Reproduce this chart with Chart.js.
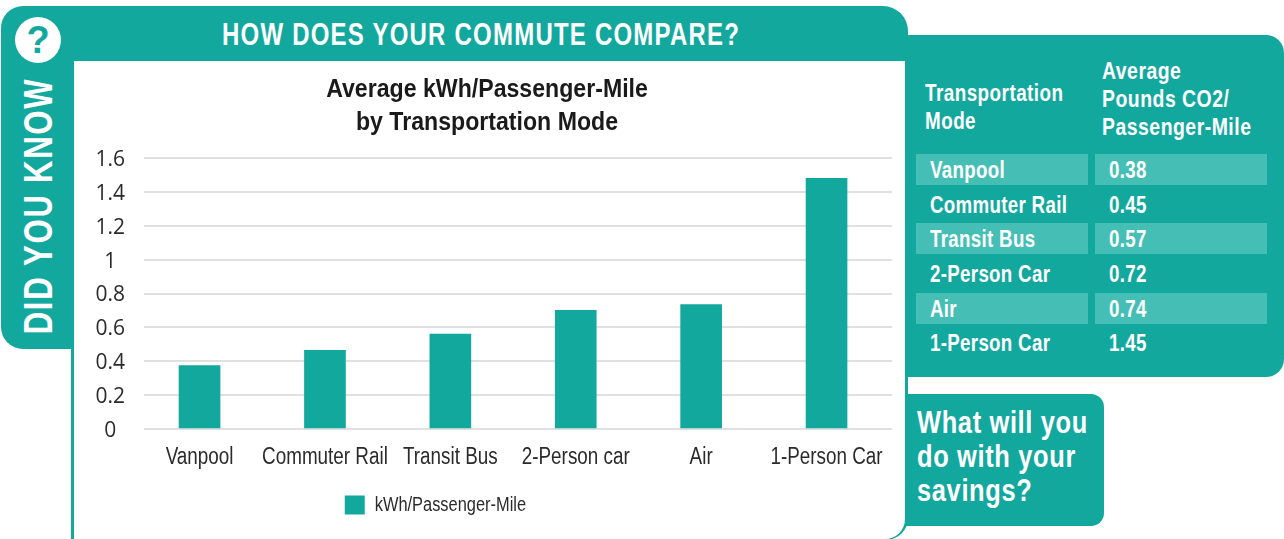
<!DOCTYPE html>
<html>
<head>
<meta charset="utf-8">
<title>How does your commute compare?</title>
<script src="https://cdn.jsdelivr.net/npm/chart.js@4"></script>
<style>
html, body { margin: 0; padding: 0; background: #fff; overflow: hidden; }
body { position: relative; width: 1284px; height: 539px; font-family: "Liberation Sans", sans-serif; font-weight: bold; color: #fff; }
div { position: absolute; white-space: nowrap; }
.teal { background: #13a89e; }
#frame { left: 71px; top: 6px; width: 837px; height: 534px; border-radius: 0 25px 22px 0; }
#side { left: 1px; top: 6px; width: 76px; height: 343px; border-radius: 22px 0 0 22px; }
#white { left: 74px; top: 61px; width: 831px; height: 478px; background: #fff; border-radius: 0 0 20px 0; }
#chartbox { left: 82px; top: 62px; width: 810px; height: 477px; }
#heading { left: 222px; top: 15px; font-size: 31px; line-height: 40px; letter-spacing: 1.6px; transform: scaleX(0.773); transform-origin: left; }
#didyou { left: 38px; top: 206px; font-size: 41px; letter-spacing: 2.2px; transform: translate(-50%, -50%) rotate(-90deg) scaleX(0.76); }
#qmark { left: 15px; top: 17px; width: 46px; height: 46px; border-radius: 50%; background: #fff; color: #13a89e; font-size: 38px; line-height: 46px; text-align: center; }
#panel { left: 908px; top: 35px; width: 376px; height: 342px; border-radius: 0 18px 18px 0; }
#headA { left: 925px; top: 79px; font-size: 24px; line-height: 28px; letter-spacing: 0.6px; transform: scaleX(0.785); transform-origin: left; }
#headB { left: 1102px; top: 57px; font-size: 24px; line-height: 28px; letter-spacing: 0.6px; transform: scaleX(0.81); transform-origin: left; }
#rows { left: 916px; top: 154px; display: grid; grid-template-columns: 172px 172px; column-gap: 7px; grid-auto-rows: 31px; row-gap: 3.7px; font-size: 24px; line-height: 31px; letter-spacing: 0.4px; }
#rows span { padding-left: 14px; }
#rows span.odd { background: #45bfb5; }
#rows b { display: inline-block; transform: scaleX(0.78); transform-origin: left; }
#savings { left: 906px; top: 394px; width: 198px; height: 132px; border-radius: 0 13px 13px 0; }
#savingsText { left: 917px; top: 406px; font-size: 31px; line-height: 34px; letter-spacing: 0.8px; transform: scaleX(0.82); transform-origin: left; }
</style>
</head>
<body>
<div id="frame" class="teal"></div>
<div id="side" class="teal"></div>
<div id="white"></div>
<div id="panel" class="teal"></div>
<div id="savings" class="teal"></div>
<div id="chartbox"><canvas id="ekgplot" width="810" height="477"></canvas></div>
<div id="qmark">?</div>
<div id="heading">HOW DOES YOUR COMMUTE COMPARE?</div>
<div id="didyou">DID YOU KNOW</div>
<div id="headA">Transportation<br>Mode</div>
<div id="headB">Average<br>Pounds CO2/<br>Passenger-Mile</div>
<div id="rows"></div>
<div id="savingsText">What will you<br>do with your<br>savings?</div>

<script>
const categories = ["Vanpool", "Commuter Rail", "Transit Bus", "2-Person car", "Air", "1-Person Car"];
const kwhValues = [0.375, 0.465, 0.56, 0.70, 0.735, 1.48];
const seriesName = "kWh/Passenger-Mile";
const titleLines = ["Average kWh/Passenger-Mile", "by Transportation Mode"];

const tableModes = ["Vanpool", "Commuter Rail", "Transit Bus", "2-Person Car", "Air", "1-Person Car"];
const tableCo2 = ["0.38", "0.45", "0.57", "0.72", "0.74", "1.45"];

const teal = "#13a89e";
const labelFont = "'Liberation Sans', sans-serif";

// side table
const rows = document.getElementById("rows");
for (let i = 0; i < tableModes.length; i++) {
    for (const text of [tableModes[i], tableCo2[i]]) {
        const cell = document.createElement("span");
        const inner = document.createElement("b");
        inner.textContent = text;
        cell.appendChild(inner);
        if (i % 2 === 0) cell.className = "odd";
        rows.appendChild(cell);
    }
}

// no condensed font is installed, so squeeze the chart text sideways when drawn.
// The numbers on the y axis stay normal width.
const canvas = document.getElementById("ekgplot");
const ctx = canvas.getContext("2d");
const plainFillText = ctx.fillText.bind(ctx);
ctx.fillText = function (text, x, y, maxWidth) {
    if (ctx.font.includes("Open Sans")) {
        plainFillText(text, x, y, maxWidth);
        return;
    }
    const squeeze = ctx.font.includes("bold") ? 0.925 : 0.82;
    ctx.save();
    ctx.translate(x, y);
    ctx.scale(squeeze, 1);
    plainFillText(text, 0, 0, maxWidth);
    ctx.restore();
};

// the legend sits left of the title centre in the original
const legendShift = {
    id: "legendShift",
    afterLayout(chart) {
        chart.legend.left -= 35;
        chart.legend.right -= 35;
    }
};

new Chart(canvas, {
    type: "bar",
    data: {
        datasets: [{
            label: seriesName,
            data: kwhValues.map((v, i) => ({ x: i, y: v })),
            backgroundColor: teal,
            barThickness: 41
        }]
    },
    plugins: [legendShift],
    options: {
        responsive: false,
        animation: false,
        layout: { padding: { bottom: 14 } },
        plugins: {
            tooltip: { enabled: false },
            title: {
                display: true,
                text: titleLines,
                color: "#1a1a1a",
                font: { family: labelFont, size: 25, weight: "bold", lineHeight: 1.3 },
                padding: { top: 12, bottom: 19 }
            },
            legend: {
                position: "bottom",
                labels: {
                    boxWidth: 20,
                    boxHeight: 19,
                    padding: 10,
                    color: "#2b2b2b",
                    font: { family: labelFont, size: 20 }
                }
            }
        },
        scales: {
            x: {
                type: "linear",
                bounds: "data",
                offset: false,
                min: -0.443,
                max: 5.522,
                afterBuildTicks(scale) { scale.ticks = categories.map((c, i) => ({ value: i })); },
                afterFit(scale) {
                    scale.height = 56;
                    scale.paddingLeft = 0;
                    scale.paddingRight = 0;
                },
                grid: { display: false, drawTicks: false },
                border: { display: false },
                ticks: {
                    autoSkip: false,
                    maxRotation: 0,
                    padding: 15,
                    color: "#2b2b2b",
                    font: { family: labelFont, size: 23 },
                    callback: v => categories[v]
                }
            },
            y: {
                min: 0,
                max: 1.6,
                afterFit(scale) { scale.width = 62; },
                grid: { color: "#e0e0e0", lineWidth: 2, drawTicks: false },
                border: { display: false },
                ticks: {
                    stepSize: 0.2,
                    crossAlign: "center",
                    padding: 19,
                    labelOffset: 2,
                    color: "#2b2b2b",
                    font: { family: "'Open Sans'", size: 21 },
                    callback: v => String(Math.round(v * 10) / 10)
                }
            }
        }
    }
});
</script>
</body>
</html>
